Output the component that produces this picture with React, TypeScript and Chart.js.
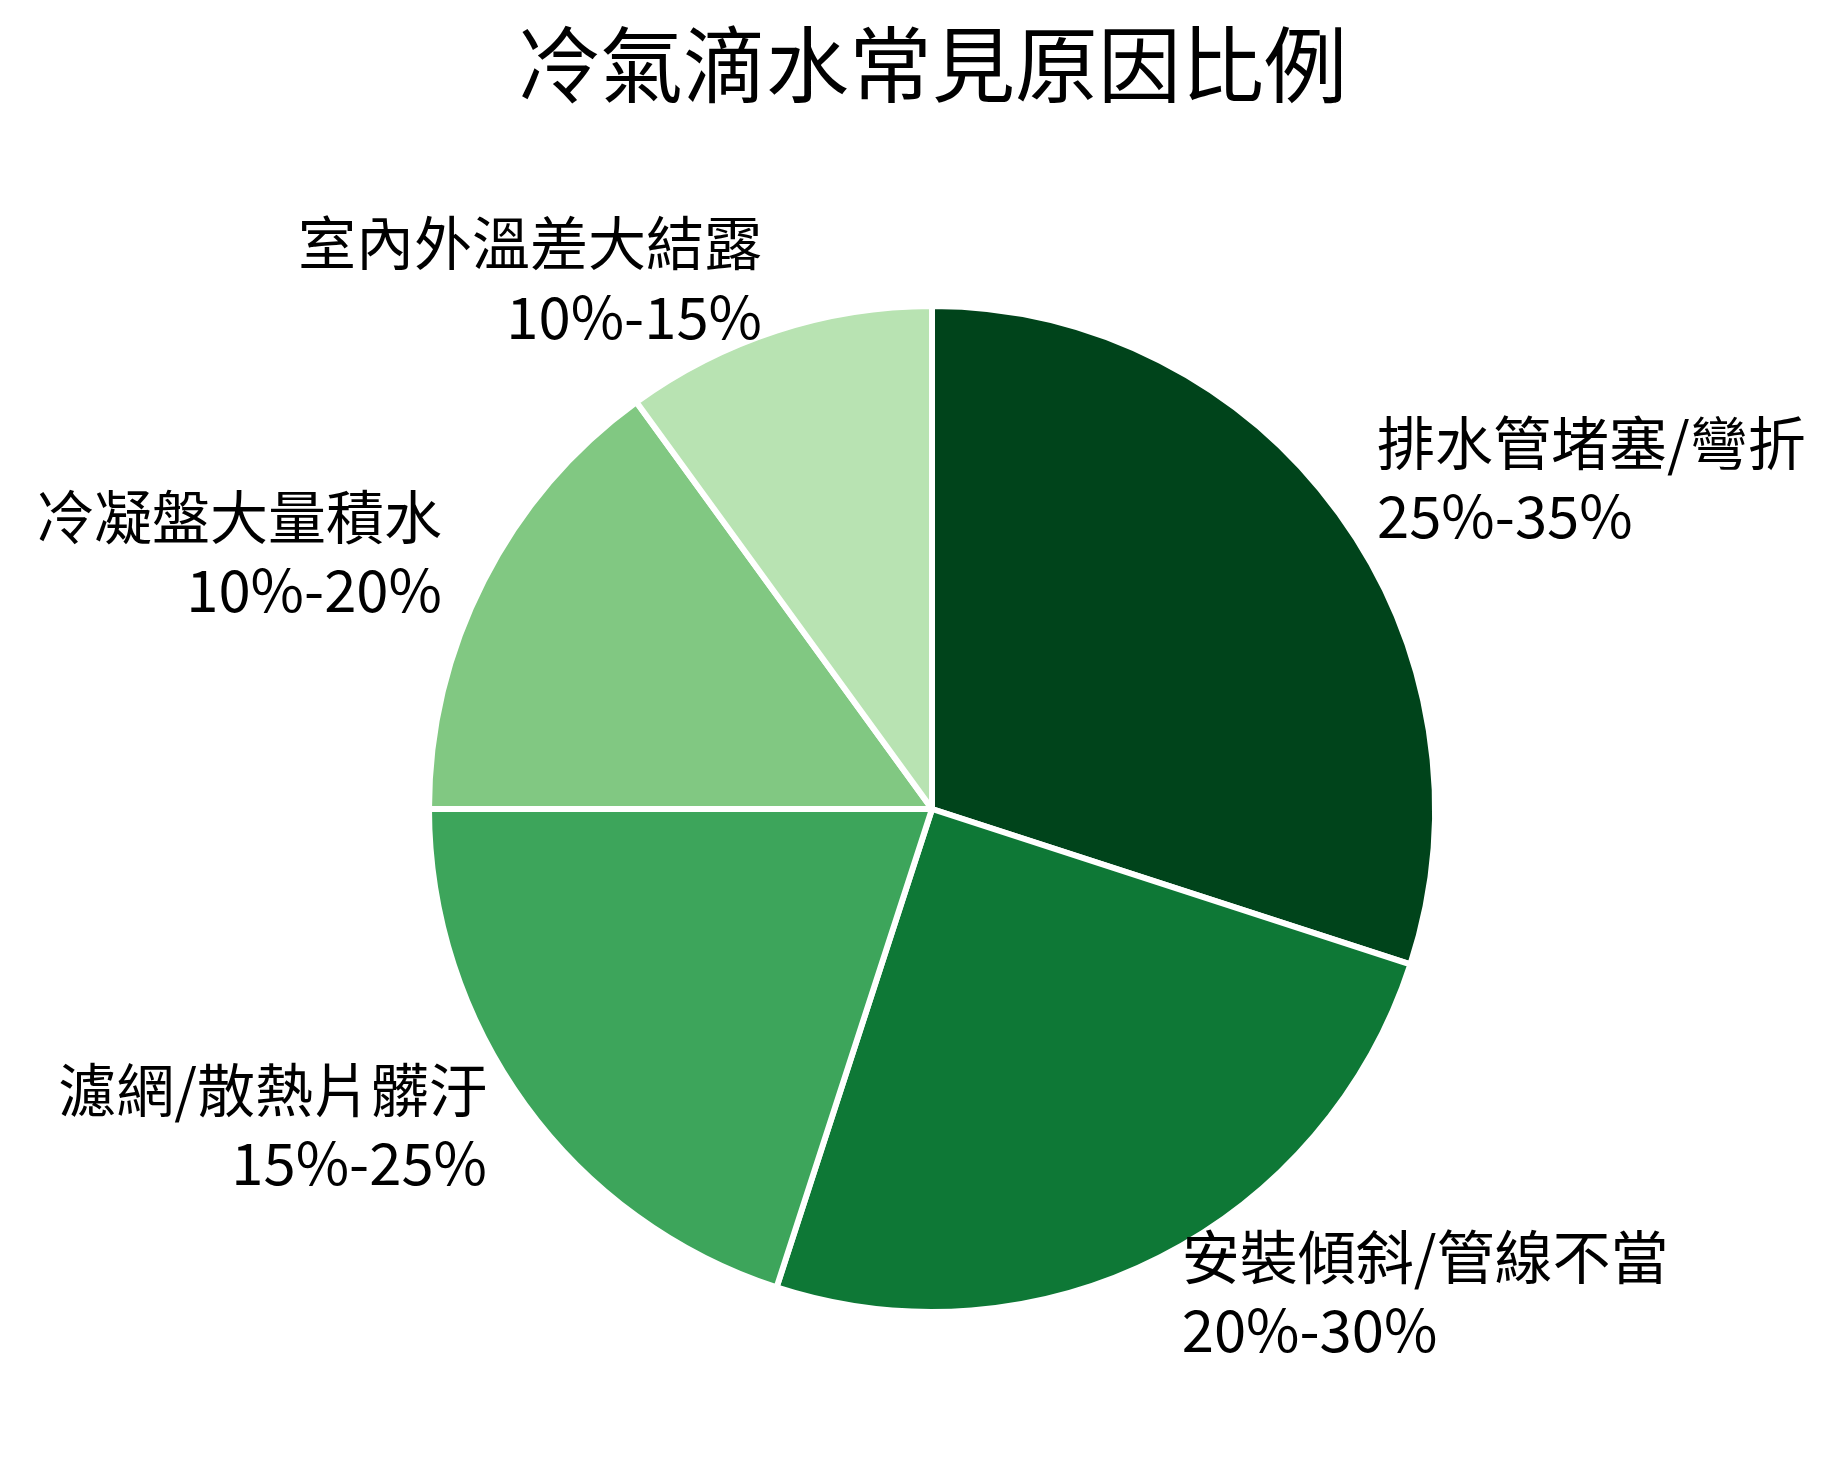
import React, { useEffect, useRef } from 'react';
import { Chart, registerables } from 'chart.js';

Chart.register(...registerables);

// data
const causes = ['排水管堵塞/彎折', '安裝傾斜/管線不當', '濾網/散熱片髒汙', '冷凝盤大量積水', '室內外溫差大結露'];
const ranges = ['25%-35%', '20%-30%', '15%-25%', '10%-20%', '10%-15%'];
const shares = [30, 25, 20, 15, 10];
const sliceColors = ['#00441b', '#0e7836', '#3da55b', '#81c882', '#b8e3b2'];

const FONT = '"Noto Sans CJK TC", "Noto Sans CJK SC", "Noto Sans", sans-serif';
const LABEL_SIZE = 58;
const BORDER = 6;

// draws the two-line label outside each wedge, like matplotlib's labeldistance
const outsideLabels = {
  id: 'outsideLabels',
  afterDraw(chart: Chart) {
    const ctx = chart.ctx;
    const meta = chart.getDatasetMeta(0);
    ctx.save();
    ctx.font = `${LABEL_SIZE}px ${FONT}`;
    ctx.fillStyle = '#000';
    ctx.textBaseline = 'middle';
    const lh = LABEL_SIZE * 1.26;
    meta.data.forEach((el: any, i: number) => {
      const { x, y, startAngle, endAngle, outerRadius } = el.getProps(
        ['x', 'y', 'startAngle', 'endAngle', 'outerRadius'],
        true
      );
      const mid = (startAngle + endAngle) / 2;
      const r = (outerRadius - BORDER / 2) * 1.1;
      const lx = x + r * Math.cos(mid);
      const ly = y + r * Math.sin(mid) - 6;
      ctx.textAlign = Math.cos(mid) >= 0 ? 'left' : 'right';
      ctx.fillText(causes[i], lx, ly - lh / 2);
      ctx.fillText(ranges[i], lx, ly + lh / 2);
    });
    ctx.restore();
  }
};

const App: React.FC = () => {
  const canvasRef = useRef<HTMLCanvasElement>(null);

  useEffect(() => {
    document.body.style.margin = '0';
    const ctx = canvasRef.current?.getContext('2d');
    if (!ctx) return;

    const chart = new Chart(ctx, {
      type: 'pie',
      data: {
        labels: causes,
        datasets: [
          {
            data: shares,
            backgroundColor: sliceColors,
            borderColor: '#ffffff',
            borderWidth: BORDER
          }
        ]
      },
      options: {
        responsive: false,
        animation: false,
        devicePixelRatio: 1,
        layout: {
          padding: { left: 426, right: 402, top: 0, bottom: 153 }
        },
        plugins: {
          legend: { display: false },
          tooltip: { enabled: false },
          title: {
            display: true,
            text: '冷氣滴水常見原因比例',
            color: '#000',
            font: { family: FONT, size: 83, weight: 'normal', lineHeight: 1.2 },
            padding: { top: 15, bottom: 188.4 }
          }
        }
      },
      plugins: [outsideLabels]
    });

    return () => {
      chart.destroy();
    };
  }, []);

  return (
    <div style={{ width: 1840, height: 1468, background: '#fff' }}>
      <canvas ref={canvasRef} width={1840} height={1468} />
    </div>
  );
};

export default App;
